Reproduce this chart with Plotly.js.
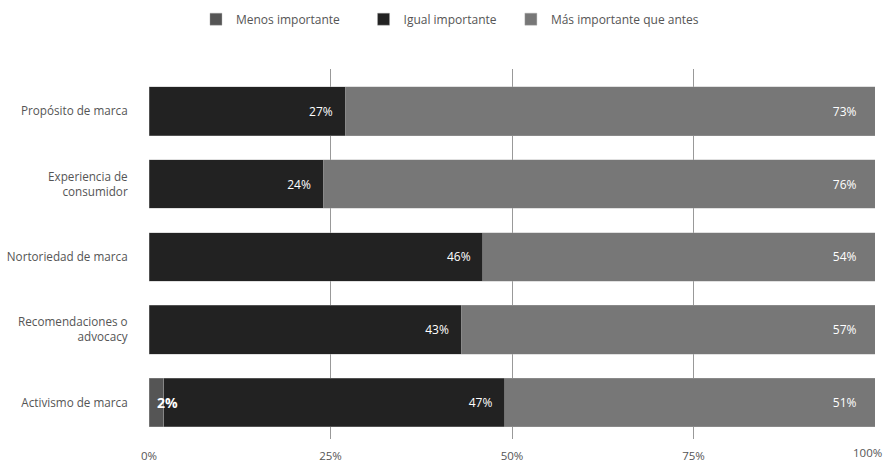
<!DOCTYPE html>
<html>
<head>
<meta charset="utf-8">
<script src="https://cdn.plot.ly/plotly-3.0.1.min.js"></script>
<style>
  html, body { margin: 0; padding: 0; background: #fff; }
  #chart { width: 885px; height: 463px; }
</style>
</head>
<body>
<div id="chart"></div>
<script>
// Categories, top to bottom
const categories = [
  "Propósito de marca",
  "Experiencia de<br>consumidor",
  "Nortoriedad de marca",
  "Recomendaciones o<br>advocacy",
  "Activismo de marca"
];

// Share of respondents (%) per answer
const menosImportante = [0, 0, 0, 0, 2];
const igualImportante = [27, 24, 46, 43, 47];
const masImportante   = [73, 76, 54, 57, 51];

const seriesNames = ["Menos importante", "Igual importante", "Más importante que antes"];
const xTicks = [0, 25, 50, 75, 100];

const FONT = "Open Sans, sans-serif";
const NB = "\u00a0";

function labels(values, pad) {
  return values.map(v => (v > 0 ? v + "%" + NB.repeat(pad) : ""));
}

// extra trailing space widens the gap between legend entries
const legendPad = [6, 3, 0];

const edge = { color: "rgba(170,170,170,0.6)", width: 0.6 };

const traces = [
  {
    type: "bar", orientation: "h", name: seriesNames[0] + NB.repeat(legendPad[0]),
    y: categories, x: menosImportante,
    marker: { color: "#555555", line: edge },
    hoverinfo: "skip"
  },
  {
    type: "bar", orientation: "h", name: seriesNames[1] + NB.repeat(legendPad[1]),
    y: categories, x: igualImportante,
    marker: { color: "#222222", line: edge },
    text: labels(igualImportante, 3),
    textposition: "inside", insidetextanchor: "end",
    constraintext: "none", textangle: 0,
    textfont: { color: "#ffffff", size: 12, family: FONT },
    hoverinfo: "skip"
  },
  {
    type: "bar", orientation: "h", name: seriesNames[2] + NB.repeat(legendPad[2]),
    y: categories, x: masImportante,
    marker: { color: "#777777", line: edge },
    text: labels(masImportante, 5),
    textposition: "inside", insidetextanchor: "end",
    constraintext: "none", textangle: 0,
    textfont: { color: "#ffffff", size: 12, family: FONT },
    hoverinfo: "skip"
  }
];

// The small "Menos importante" shares do not fit in their segment,
// so they are written as annotations starting at the bar's origin.
const smallLabels = menosImportante
  .map((v, i) => ({ v, i }))
  .filter(d => d.v > 0)
  .map(d => ({
    x: 0, y: categories[d.i], xref: "x", yref: "y",
    text: d.v + "%", showarrow: false,
    xanchor: "left", yanchor: "middle", xshift: 6,
    font: { family: FONT, size: 14, color: "#ffffff", weight: 700 }
  }));

// The last tick label is right-aligned to the page edge instead of
// being centred on its grid line.
const lastTick = xTicks[xTicks.length - 1];
const xTickText = xTicks.map(v => (v === lastTick ? "" : v + "%"));
const lastTickLabel = {
  x: lastTick, xref: "x", y: 0, yref: "paper",
  text: lastTick + "%", showarrow: false,
  xanchor: "right", yanchor: "top", xshift: 9, yshift: -4,
  font: { family: FONT, size: 11.5, color: "#555555" }
};

const layout = {
  width: 885, height: 463,
  margin: { l: 149, r: 10, t: 69, b: 24 },
  paper_bgcolor: "#ffffff", plot_bgcolor: "#ffffff",
  font: { family: FONT, size: 12, color: "#555555" },
  barmode: "stack",
  bargap: 0.33,
  showlegend: true,
  legend: {
    orientation: "h", x: 0.0647, xanchor: "left", xref: "paper",
    y: 0.99, yref: "container", yanchor: "top",
    font: { family: FONT, size: 12, color: "#555555" },
    traceorder: "normal"
  },
  annotations: smallLabels.concat([lastTickLabel]),
  xaxis: {
    range: [0, 100],
    tickvals: xTicks,
    ticktext: xTickText,
    showgrid: true, gridcolor: "#999999", gridwidth: 1,
    zeroline: false, showline: false,
    ticks: "outside", ticklen: 6, tickcolor: "rgba(0,0,0,0)",
    tickfont: { family: FONT, size: 11.5, color: "#555555" },
    fixedrange: true
  },
  yaxis: {
    type: "category",
    categoryorder: "array", categoryarray: categories,
    range: [4.5, -0.58],
    showgrid: false, zeroline: false, showline: false,
    ticks: "outside", ticklen: 18, tickcolor: "rgba(0,0,0,0)",
    tickfont: { family: FONT, size: 11.7, color: "#555555" },
    fixedrange: true
  }
};

Plotly.newPlot("chart", traces, layout, { displayModeBar: false, staticPlot: true });
</script>
</body>
</html>
